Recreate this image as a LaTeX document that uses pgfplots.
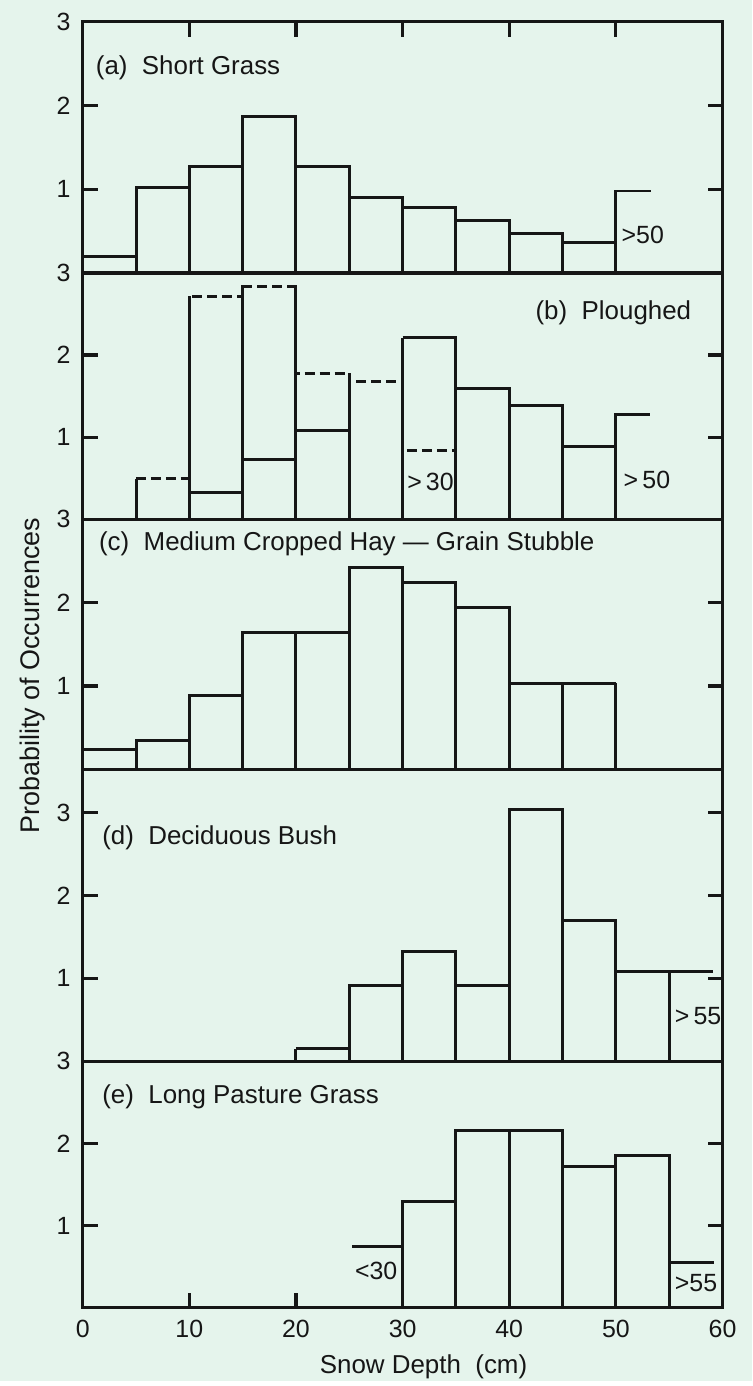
\documentclass[border=0pt]{standalone}
\usepackage{fontspec}
\setmainfont{Liberation Sans}
\usepackage{pgfplots}
\pgfplotsset{compat=1.18}
\usepackage{pgfplotstable}
\definecolor{bg}{RGB}{229,244,236}
\definecolor{ink}{RGB}{22,22,22}

% ---------- data ----------
% panel (a) Short Grass
\pgfplotstableread{
x h
5 1.02
10 1.27
15 1.87
20 1.87
25 1.27
30 0.90
35 0.78
40 0.63
45 0.47
50 0.98
}\edgesA
\pgfplotstableread{
x y
0 0.20
5 1.02
10 1.27
15 1.87
20 1.27
25 0.90
30 0.78
35 0.63
40 0.47
45 0.37
50 0.98
53.3 0.98
}\topsA
% panel (b) Ploughed
\pgfplotstableread{
x h
5 0.49
10 2.72
15 2.84
20 2.84
25 1.78
30 2.21
35 2.21
40 1.59
45 1.38
50 1.27
}\edgesB
\pgfplotstableread{
x y
5 0.49
10 2.72
15 2.84
20 1.78
25 1.68
30 0.84
35 0.84
}\dashB
\pgfplotstableread{
x y
10 0.32
15 0.73
20 1.08
25 1.08
nan nan
30 2.21
35 1.59
40 1.38
45 0.88
50 1.27
53.2 1.27
}\solidB
% panel (c) Medium Cropped Hay - Grain Stubble
\pgfplotstableread{
x h
5 0.34
10 0.88
15 1.64
20 1.64
25 2.42
30 2.42
35 2.24
40 1.94
45 1.03
50 1.03
}\edgesC
\pgfplotstableread{
x y
0 0.24
5 0.34
10 0.88
15 1.64
20 1.64
25 2.42
30 2.24
35 1.94
40 1.03
45 1.03
50 1.03
}\topsC
% panel (d) Deciduous Bush
\pgfplotstableread{
x h
20 0.15
25 0.92
30 1.33
35 1.33
40 3.03
45 3.03
50 1.70
55 1.08
}\edgesD
\pgfplotstableread{
x y
20 0.15
25 0.92
30 1.33
35 0.91
40 3.03
45 1.70
50 1.08
55 1.08
59.1 1.08
}\topsD
% panel (e) Long Pasture Grass
\pgfplotstableread{
x h
30 1.29
35 2.16
40 2.16
45 2.16
50 1.85
55 1.85
}\edgesE
\pgfplotstableread{
x y
25.3 0.74
30 1.29
35 2.16
40 2.16
45 1.72
50 1.85
55 0.55
59.2 0.55
}\topsE

\pgfplotsset{
  panel/.style={
    scale only axis, width=321pt,
    xmin=0, xmax=60, ymin=0, ymax=3,
    axis line style={ink, line width=1.6pt},
    ytick={1,2,3}, ytick pos=both,
    major tick length=7.5pt,
    tick style={ink, line width=1.6pt},
    tick align=inside,
    xtick=\empty,
    yticklabel style={font=\fontsize{12.5}{14}\selectfont, inner sep=0pt, xshift=-6pt, text=ink},
    xticklabel style={font=\fontsize{12.5}{14}\selectfont, yshift=-3pt, text=ink},
    /pgf/number format/assume math mode=true,
    clip=false,
    anchor=north west,
    unbounded coords=jump,
  },
  bar/.style={ink, line width=1.5pt, no marks},
}
\tikzset{
  ttl/.style={font=\fontsize{13}{15}\selectfont, inner sep=0pt, text=ink},
  lab/.style={font=\fontsize{12.5}{14}\selectfont, inner sep=0pt, text=ink, anchor=west},
}

\begin{document}
\begin{tikzpicture}
\fill[bg] (0,0) rectangle (377.5pt,693pt);

% (a)
\begin{axis}[panel, at={(41.5pt,682pt)}, height=126pt,
  xtick={10,20,30,40,50}, xtick pos=upper, xticklabels={}]
  \addplot[bar, ycomb] table[x=x, y=h] {\edgesA};
  \addplot[bar, const plot] table[x=x, y=y] {\topsA};
  \node[ttl, anchor=west] at (axis cs:1.2,2.45) {(a)\ \ Short Grass};
  \node[lab] at (axis cs:50.5,0.46) {>50};
\end{axis}

% (b)
\begin{axis}[panel, at={(41.5pt,556pt)}, height=123.5pt]
  \addplot[bar, const plot, dash pattern=on 5pt off 2.5pt] table[x=x, y=y] {\dashB};
  \addplot[bar, ycomb] table[x=x, y=h] {\edgesB};
  \addplot[bar, const plot] table[x=x, y=y] {\solidB};
  \node[ttl, anchor=east] at (axis cs:57.1,2.52) {(b)\ \ Ploughed};
  \node[lab] at (axis cs:30.4,0.45) {>\,30};
  \node[lab] at (axis cs:50.7,0.48) {>\,50};
\end{axis}

% (c)
\begin{axis}[panel, at={(41.5pt,432.5pt)}, height=125.5pt]
  \addplot[bar, ycomb] table[x=x, y=h] {\edgesC};
  \addplot[bar, const plot] table[x=x, y=y] {\topsC};
  \node[ttl, anchor=west] at (axis cs:1.5,2.70) {(c)\ \ Medium Cropped Hay — Grain Stubble};
\end{axis}

% (d)
\begin{axis}[panel, at={(41.5pt,307pt)}, height=146.5pt, ymax=3.52]
  \addplot[bar, ycomb] table[x=x, y=h] {\edgesD};
  \addplot[bar, const plot] table[x=x, y=y] {\topsD};
  \node[ttl, anchor=west] at (axis cs:1.8,2.70) {(d)\ \ Deciduous Bush};
  \node[lab] at (axis cs:55.5,0.54) {>\,55};
\end{axis}

% (e)
\begin{axis}[panel, at={(41.5pt,160.5pt)}, height=123.5pt,
  xtick={0,10,20,30,40,50,60}, xtick pos=lower]
  \addplot[bar, ycomb] table[x=x, y=h] {\edgesE};
  \addplot[bar, const plot] table[x=x, y=y] {\topsE};
  \node[ttl, anchor=west] at (axis cs:1.8,2.57) {(e)\ \ Long Pasture Grass};
  \node[lab] at (axis cs:25.5,0.45) {<30};
  \node[lab] at (axis cs:55.5,0.30) {>55};
\end{axis}

\node[font=\fontsize{13.5}{16}\selectfont, rotate=90, text=ink] at (16.5pt,354pt) {Probability of Occurrences};
\node[font=\fontsize{13}{15}\selectfont, text=ink] at (212.5pt,7pt) {Snow Depth\ \ (cm)};
\end{tikzpicture}
\end{document}
